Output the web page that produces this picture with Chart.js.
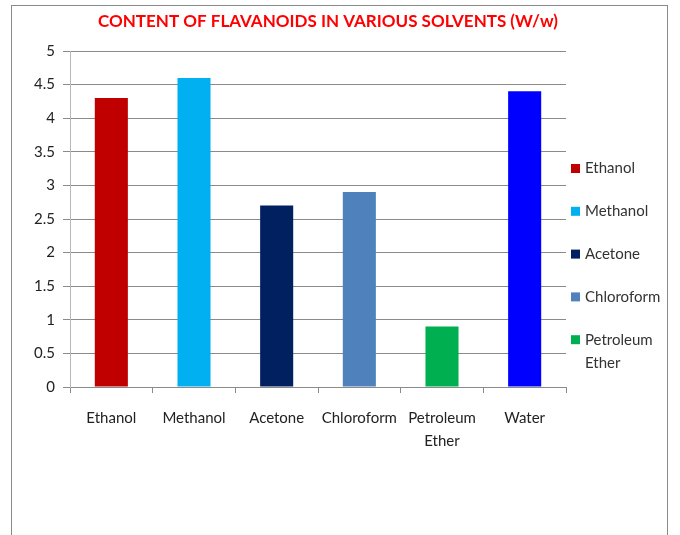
<!DOCTYPE html>
<html>
<head>
<meta charset="utf-8">
<script src="https://cdn.jsdelivr.net/npm/chart.js@4"></script>
<style>
  html, body { margin: 0; padding: 0; background: #fff; }
  #wrap { position: relative; width: 680px; height: 535px; overflow: hidden; }
  #frame { position: absolute; left: 11px; top: 5px; width: 655px; height: 600px; border: 1px solid #8a8a8a; }
  canvas { position: absolute; left: 0; top: 0; }
</style>
</head>
<body>
<div id="wrap">
  <div id="frame"></div>
  <canvas id="chart" width="680" height="535"></canvas>
</div>
<script>
// Datos
const solvents = ['Ethanol', 'Methanol', 'Acetone', 'Chloroform', ['Petroleum', 'Ether'], 'Water'];
const flavanoids = [4.3, 4.6, 2.7, 2.9, 0.9, 4.4];
const barColors = ['#c00000', '#00b0f0', '#002060', '#4f81bd', '#00b050', '#0000ff'];
const yTicks = [0, 0.5, 1, 1.5, 2, 2.5, 3, 3.5, 4, 4.5, 5];
const chartTitle = 'CONTENT OF FLAVANOIDS IN VARIOUS SOLVENTS (W/w)';
// la leyenda original sólo muestra las cinco primeras
const legendCount = 5;

const FONT = 'Lato, "Liberation Sans", sans-serif';

// título (centrado sobre toda la figura, no sólo sobre el área del gráfico)
const topTitle = {
  id: 'topTitle',
  afterDraw(chart) {
    const ctx = chart.ctx;
    ctx.save();
    ctx.font = 'bold 17px ' + FONT;
    ctx.fillStyle = '#ff0000';
    ctx.textAlign = 'center';
    ctx.textBaseline = 'middle';
    ctx.fillText(chartTitle, 328, 22);
    ctx.restore();
  }
};

// leyenda a la derecha (el texto de Petroleum Ether va en dos líneas)
const sideLegend = {
  id: 'sideLegend',
  afterDraw(chart) {
    const ctx = chart.ctx;
    ctx.save();
    ctx.font = '15px ' + FONT;
    ctx.textBaseline = 'middle';
    ctx.textAlign = 'left';
    for (let i = 0; i < legendCount; i++) {
      const y = 168.5 + i * 42.8;
      ctx.fillStyle = barColors[i];
      ctx.fillRect(571, y - 4.5, 9, 9);
      ctx.fillStyle = '#333';
      const lines = Array.isArray(solvents[i]) ? solvents[i] : [solvents[i]];
      lines.forEach((t, j) => ctx.fillText(t, 585, y + j * 23));
    }
    ctx.restore();
  }
};

new Chart(document.getElementById('chart'), {
  type: 'bar',
  data: {
    labels: solvents,
    datasets: [{
      data: flavanoids,
      backgroundColor: barColors,
      borderWidth: 0,
      barPercentage: 0.4,
      categoryPercentage: 1.0
    }]
  },
  plugins: [topTitle, sideLegend],
  options: {
    responsive: false,
    animation: false,
    layout: { padding: { top: 51, right: 114, bottom: 68, left: 0 } },
    plugins: {
      legend: { display: false },
      tooltip: { enabled: false },
      title: { display: false }
    },
    scales: {
      x: {
        afterFit: (s) => { s.height = 80; },
        grid: { offset: true, drawOnChartArea: false, color: '#8a8a8a', tickLength: 6 },
        border: { color: '#8a8a8a' },
        ticks: { color: '#222', font: { family: FONT, size: 15, lineHeight: 1.5 }, padding: 14, maxRotation: 0 }
      },
      y: {
        min: 0,
        max: 5,
        afterFit: (s) => { s.width = 70; },
        afterBuildTicks: (s) => { s.ticks = yTicks.map(v => ({ value: v })); },
        grid: { color: '#8a8a8a', tickLength: 7 },
        border: { color: '#b8b8b8' },
        ticks: {
          color: '#222',
          font: { family: FONT, size: 15 },
          padding: 8,
          callback: (v) => String(v)
        }
      }
    }
  }
});
</script>
</body>
</html>
